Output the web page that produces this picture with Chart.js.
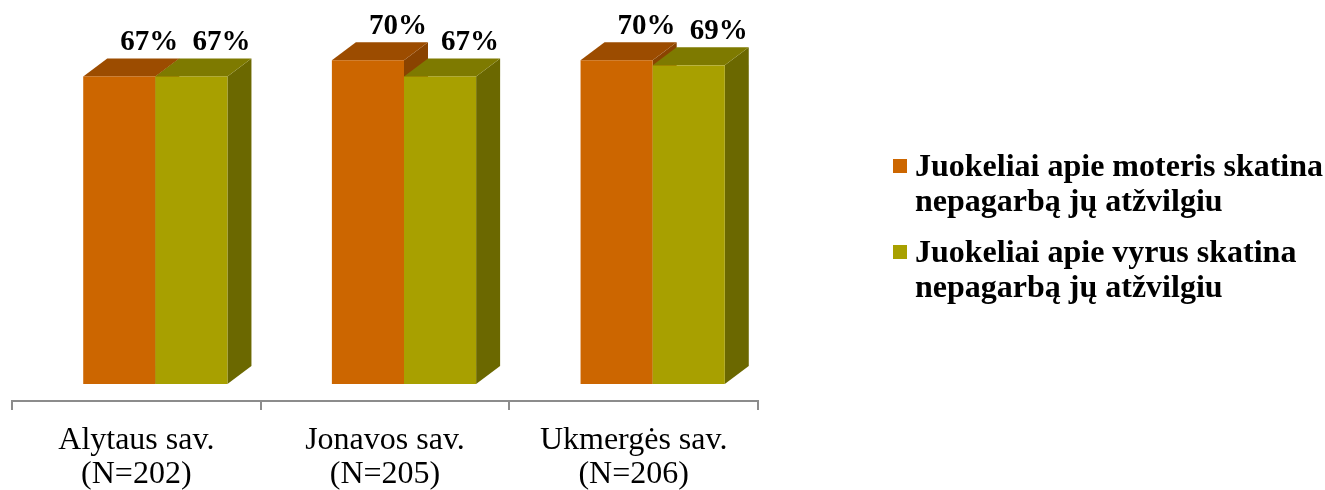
<!DOCTYPE html>
<html>
<head>
<meta charset="utf-8">
<script src="https://cdn.jsdelivr.net/npm/chart.js@4"></script>
<style>
  body { margin: 0; background: #fff; }
  #wrap { position: relative; width: 1325px; height: 490px; }
  #legend { position: absolute; left: 893px; top: 148px; font-family: "Liberation Serif", "Times New Roman", serif;
            font-weight: bold; font-size: 32px; line-height: 35px; color: #000; white-space: nowrap; }
  .item { position: relative; padding-left: 22px; margin-bottom: 16px; }
  .sw { position: absolute; left: 0; top: 11px; width: 14px; height: 14px; }
</style>
</head>
<body>
<div id="wrap">
  <canvas id="myChart" width="1325" height="490"></canvas>
  <div id="legend"></div>
</div>
<script>
const labels = [["Alytaus sav.", "(N=202)"], ["Jonavos sav.", "(N=205)"], ["Ukmergės sav.", "(N=206)"]];
const seriesNames = ["Juokeliai apie moteris skatina nepagarbą jų atžvilgiu", "Juokeliai apie vyrus skatina nepagarbą jų atžvilgiu"];
const women = [66.5, 70, 70];
const men = [66.5, 66.5, 68.9];
const valueLabels = [["67%", "70%", "70%"], ["67%", "67%", "69%"]];

// front, top, side colours per series
const faces = [
  { front: "#CC6600", top: "#9C4C00", side: "#8A4300" },
  { front: "#A8A000", top: "#7E7A00", side: "#6B6800" },
];

// 3D box look
const shift = { x: 19, y: -17 };
const depth = { x: 24, y: -18 };

const legendEl = document.getElementById("legend");
seriesNames.forEach(function (name, i) {
  const words = name.split(" ");
  const line1 = words.slice(0, 4).join(" ");
  const line2 = words.slice(4).join(" ");
  legendEl.innerHTML += '<div class="item"><span class="sw" style="background:' + faces[i].front + '"></span>' +
    line1 + "<br>" + line2 + "</div>";
});

const box3d = {
  id: "box3d",
  afterDatasetsDraw(chart) {
    const c = chart.ctx;
    const n = chart.data.labels.length;
    for (let k = 0; k < n; k++) {
      chart.data.datasets.forEach(function (ds, di) {
        const bar = chart.getDatasetMeta(di).data[k];
        const f = faces[di];
        const l = bar.x - bar.width / 2 + shift.x;
        const r = bar.x + bar.width / 2 + shift.x;
        const t = bar.y + shift.y;
        const b = bar.base + shift.y;
        // side
        c.fillStyle = f.side;
        c.beginPath();
        c.moveTo(r, b); c.lineTo(r + depth.x, b + depth.y);
        c.lineTo(r + depth.x, t + depth.y); c.lineTo(r, t); c.closePath(); c.fill();
        // top
        c.fillStyle = f.top;
        c.beginPath();
        c.moveTo(l, t); c.lineTo(l + depth.x, t + depth.y);
        c.lineTo(r + depth.x, t + depth.y); c.lineTo(r, t); c.closePath(); c.fill();
        // front
        c.fillStyle = f.front;
        c.fillRect(l, t, r - l, b - t);
      });
    }
    // value labels
    c.save();
    c.font = "bold 29px 'Liberation Serif', 'Times New Roman', serif";
    c.fillStyle = "#000";
    c.textAlign = "center";
    c.textBaseline = "alphabetic";
    chart.data.datasets.forEach(function (ds, di) {
      chart.getDatasetMeta(di).data.forEach(function (bar, k) {
        c.fillText(valueLabels[di][k], bar.x + shift.x + 30, bar.y + shift.y + depth.y - 8);
      });
    });
    c.restore();
  },
};

const ctx = document.getElementById("myChart");
new Chart(ctx, {
  type: "bar",
  data: {
    labels: labels,
    datasets: [
      { label: seriesNames[0], data: women, backgroundColor: "rgba(0,0,0,0)" },
      { label: seriesNames[1], data: men, backgroundColor: "rgba(0,0,0,0)" },
    ],
  },
  options: {
    responsive: false,
    animation: false,
    categoryPercentage: 0.58,
    barPercentage: 1,
    layout: { padding: { left: 12, right: 567, top: 31, bottom: 0 } },
    plugins: { legend: { display: false }, tooltip: { enabled: false } },
    scales: {
      x: {
        grid: { display: true, drawOnChartArea: false, offset: true, tickLength: 9, color: "#8c8c8c", lineWidth: 2 },
        border: { display: true, color: "#8c8c8c", width: 2 },
        ticks: { color: "#000", padding: 14, font: { family: "'Liberation Serif', 'Times New Roman', serif", size: 32, lineHeight: 1.0625 } },
        afterFit(scale) { scale.height = 89; },
      },
      y: { display: false, min: 0, max: 80 },
    },
  },
  plugins: [box3d],
});
</script>
</body>
</html>
